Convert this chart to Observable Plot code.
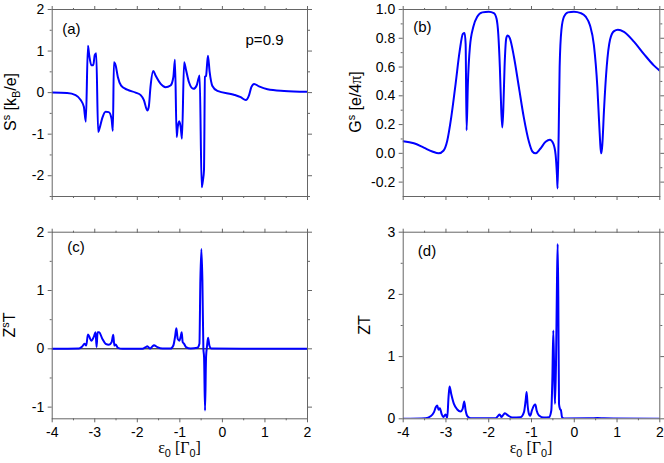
<!DOCTYPE html>
<html><head><meta charset="utf-8">
<script src="https://cdn.jsdelivr.net/npm/d3@7"></script>
<script src="https://cdn.jsdelivr.net/npm/@observablehq/plot@0.6"></script>
<style>
body{margin:0;background:#fff}
#c{position:relative;width:664px;height:463px;font-family:"Liberation Sans",Arial,sans-serif;overflow:hidden}
.p{position:absolute}
</style>
</head><body><div id="c"></div>
<script>
// ---- data ----
const xMajor = [-4, -3, -2, -1, 0, 1, 2];
const xMinor = [-3.5, -2.5, -1.5, -0.5, 0.5, 1.5];

// (a) S^s vs eps0
const sEps = [-4,-3.65,-3.45,-3.33,-3.256,-3.21,-3.16,-3.13,-3.08,-3.035,-3.0,-2.965,-2.92,-2.89,-2.82,-2.745,-2.67,-2.605,-2.574,-2.55,-2.51,-2.456,-2.38,-2.235,-2.04,-1.92,-1.845,-1.765,-1.73,-1.69,-1.625,-1.57,-1.45,-1.335,-1.22,-1.153,-1.115,-1.075,-1.05,-1.015,-0.98,-0.95,-0.90,-0.86,-0.785,-0.68,-0.605,-0.558,-0.534,-0.487,-0.456,-0.433,-0.41,-0.385,-0.34,-0.30,-0.235,-0.118,0.27,0.43,0.55,0.627,0.68,0.745,0.86,1.06,1.45,2];
const sVal = [0,-0.01,-0.06,-0.18,-0.34,-0.70,1.13,0.90,0.66,0.66,0.90,0.95,-0.95,-0.87,-0.6,-0.46,-0.47,-0.63,-0.92,0.73,0.66,0.37,0.17,0.07,0,-0.06,-0.18,-0.43,-0.34,0.14,0.52,0.41,0.21,0.13,0.17,0.37,0.79,-1.07,-0.83,-0.69,-0.83,-1.11,0.73,0.57,0.25,0.09,0.17,0.35,0.41,-2.28,-2.1,-1.87,0.38,0.40,0.89,0.5,0.16,0.04,-0.05,-0.11,-0.18,-0.06,0.13,0.21,0.15,0.08,0.04,0.02];

// (b) G^s vs eps0
const gEps = [-4,-3.75,-3.52,-3.32,-3.17,-3.06,-2.97,-2.877,-2.776,-2.68,-2.605,-2.565,-2.54,-2.518,-2.488,-2.44,-2.36,-2.27,-2.15,-2.0,-1.88,-1.817,-1.777,-1.74,-1.707,-1.683,-1.66,-1.63,-1.59,-1.56,-1.505,-1.41,-1.295,-1.18,-1.06,-0.98,-0.904,-0.80,-0.67,-0.57,-0.49,-0.436,-0.405,-0.39,-0.365,-0.342,-0.30,-0.24,-0.148,-0.007,0.15,0.266,0.367,0.46,0.54,0.587,0.617,0.634,0.657,0.695,0.758,0.836,0.93,1.02,1.163,1.40,1.63,1.865,2.0];
const gVal = [0.084,0.07,0.04,0.013,0.0,0.018,0.088,0.25,0.48,0.71,0.83,0.837,0.76,0.16,0.48,0.74,0.88,0.95,0.98,0.985,0.975,0.935,0.83,0.60,0.30,0.18,0.30,0.60,0.80,0.82,0.80,0.67,0.46,0.25,0.08,0.013,0.0,0.03,0.08,0.095,0.067,-0.01,-0.15,-0.245,0.13,0.60,0.86,0.95,0.98,0.985,0.975,0.95,0.89,0.75,0.46,0.18,0.03,0.0,0.065,0.30,0.60,0.79,0.85,0.86,0.845,0.775,0.69,0.61,0.575];

// (c) Z^s T vs eps0
const zsEps = [-4,-3.37,-3.294,-3.24,-3.2,-3.16,-3.13,-3.08,-3.02,-2.98,-2.957,-2.933,-2.90,-2.82,-2.745,-2.667,-2.604,-2.565,-2.54,-2.51,-2.455,-2.35,-1.88,-1.80,-1.765,-1.70,-1.647,-1.608,-1.53,-1.41,-1.216,-1.153,-1.114,-1.082,-1.05,-1.01,-0.98,-0.957,-0.933,-0.90,-0.855,-0.745,-0.588,-0.54,-0.518,-0.494,-0.47,-0.447,-0.431,-0.408,-0.384,-0.36,-0.337,-0.306,-0.26,2];
const zsVal = [0,0.005,0.04,0.086,0.057,0.246,0.21,0.14,0.21,0.285,0.03,0.285,0.285,0.17,0.086,0.07,0.114,0.24,0.057,0.074,0.017,0,0,0.03,0.046,0.005,0.04,0.063,0.03,0.005,0.005,0.057,0.2,0.354,0.17,0.14,0.21,0.285,0.114,0.086,0.03,0.005,0.017,0.086,1.17,1.71,1.17,0,-0.14,-1.057,-0.14,0.057,0.19,0.057,0.005,0];

// (d) ZT vs eps0
const ztEps = [-4,-3.477,-3.36,-3.28,-3.236,-3.204,-3.173,-3.142,-3.103,-3.064,-3.01,-2.97,-2.94,-2.916,-2.877,-2.814,-2.736,-2.66,-2.61,-2.573,-2.54,-2.50,-2.424,-1.84,-1.785,-1.746,-1.70,-1.66,-1.62,-1.55,-1.45,-1.254,-1.176,-1.137,-1.114,-1.09,-1.06,-1.03,-0.99,-0.942,-0.91,-0.88,-0.825,-0.708,-0.59,-0.537,-0.513,-0.49,-0.466,-0.45,-0.427,-0.404,-0.388,-0.373,-0.357,-0.334,-0.31,-0.287,-0.24,0.38,0.54,0.696,0.93,2];
const ztVal = [0,0.01,0.04,0.107,0.19,0.214,0.145,0.17,0.08,0.027,0.07,0.016,0.35,0.52,0.40,0.24,0.15,0.118,0.16,0.28,0.134,0.043,0.01,0.01,0.043,0.07,0.027,0.064,0.09,0.054,0.02,0.027,0.107,0.295,0.43,0.214,0.08,0.05,0.134,0.214,0.23,0.134,0.054,0.02,0.027,0.134,0.62,1.42,0.62,0.24,0.88,2.22,2.81,1.96,0.24,0.16,0.134,0.027,0.005,0.008,0.012,0.008,0.005,0];

// y ticks
const aMajor = [-2, -1, 0, 1, 2], aMinor = [-2.5, -1.5, -0.5, 0.5, 1.5];
const bMajor = [-0.2, 0, 0.2, 0.4, 0.6, 0.8, 1.0], bMinor = [-0.1, 0.1, 0.3, 0.5, 0.7, 0.9];
const cMajor = [-1, 0, 1, 2], cMinor = [-0.5, 0.5, 1.5];
const dMajor = [0, 1, 2, 3], dMinor = [0.5, 1.5, 2.5];

// ---- drawing ----
const FONT = '"Liberation Sans", Arial, sans-serif';
const FRAME = "#666";
const root = document.getElementById("c");
const blank = () => "";

function panel(o) {
  const data = o.xs.map((e, i) => ({e, v: o.ys[i]}));
  const fmtX = o.showX ? (d => String(d)) : blank;
  const marks = [
    ...(o.zero ? [Plot.ruleY([0], {stroke: "black", strokeWidth: 1})] : []),
    Plot.line(data, {x: "e", y: "v", stroke: "#0000ff", strokeWidth: 2, curve: "monotone-x", clip: true}),
    Plot.frame({stroke: FRAME, strokeWidth: 1}),
    Plot.axisX({ticks: xMajor, tickSize: 4, tickPadding: 4, tickFormat: fmtX, label: null, stroke: FRAME, fill: "black"}),
    Plot.axisX({ticks: xMinor, tickSize: 2, tickFormat: blank, label: null, stroke: FRAME}),
    Plot.axisX({anchor: "top", ticks: xMajor, tickSize: 4, tickFormat: blank, label: null, stroke: FRAME}),
    Plot.axisX({anchor: "top", ticks: xMinor, tickSize: 2, tickFormat: blank, label: null, stroke: FRAME}),
    Plot.axisY({ticks: o.yMajor, tickSize: 4, tickPadding: 4, tickFormat: o.yFmt, label: null, stroke: FRAME, fill: "black"}),
    Plot.axisY({ticks: o.yMinor, tickSize: 2, tickFormat: blank, label: null, stroke: FRAME}),
    Plot.axisY({anchor: "right", ticks: o.yMajor, tickSize: 4, tickFormat: blank, label: null, stroke: FRAME}),
    Plot.axisY({anchor: "right", ticks: o.yMinor, tickSize: 2, tickFormat: blank, label: null, stroke: FRAME}),
    ...o.texts.map(t => Plot.text([t.s], {text: d => d, frameAnchor: t.anchor, textAnchor: t.ta, lineAnchor: "top", dx: t.dx, dy: t.dy, fontSize: t.fs, fill: "black"}))
  ];
  const chart = Plot.plot({
    width: o.w, height: o.h,
    marginLeft: o.ml, marginRight: o.mr, marginTop: o.mt, marginBottom: o.mb,
    x: {domain: [-4, 2]},
    y: {domain: o.yDomain},
    style: {fontSize: "14px", fontFamily: FONT, overflow: "visible", background: "transparent"},
    marks
  });
  chart.classList.add("p");
  chart.style.left = o.left + "px";
  chart.style.top = o.top + "px";
  root.appendChild(chart);
}

const intFmt = d => String(d);
const oneFmt = d => d.toFixed(1);

panel({xs: sEps, ys: sVal, left: 0, top: 0, w: 332, h: 225, ml: 51.7, mr: 25, mt: 9, mb: 29,
  yDomain: [-2.5, 2], yMajor: aMajor, yMinor: aMinor, yFmt: intFmt, showX: false,
  texts: [{s: "(a)", anchor: "top-left", ta: "start", dx: 10, dy: 14, fs: 15},
          {s: "p=0.9", anchor: "top-right", ta: "end", dx: -24, dy: 25, fs: 15}]});
panel({xs: gEps, ys: gVal, left: 332, top: 0, w: 332, h: 225, ml: 70.7, mr: 4.7, mt: 9, mb: 29,
  yDomain: [-0.3, 1.0], yMajor: bMajor, yMinor: bMinor, yFmt: oneFmt, showX: false,
  texts: [{s: "(b)", anchor: "top-left", ta: "start", dx: 10, dy: 11.5, fs: 15}]});
panel({xs: zsEps, ys: zsVal, left: 0, top: 225, w: 332, h: 238, ml: 51.7, mr: 25, mt: 6.7, mb: 44.7,
  yDomain: [-1.2, 2], yMajor: cMajor, yMinor: cMinor, yFmt: intFmt, showX: true, zero: true,
  texts: [{s: "(c)", anchor: "top-left", ta: "start", dx: 15, dy: 9, fs: 15}]});
panel({xs: ztEps, ys: ztVal, left: 332, top: 225, w: 332, h: 238, ml: 70.7, mr: 4.7, mt: 6.7, mb: 44.7,
  yDomain: [0, 3], yMajor: dMajor, yMinor: dMinor, yFmt: intFmt, showX: true,
  texts: [{s: "(d)", anchor: "top-left", ta: "start", dx: 14.6, dy: 12.8, fs: 15}]});

// ---- axis titles with super/subscripts ----
const svg = d3.select(root).append("svg").attr("class", "p")
  .attr("width", 664).attr("height", 463)
  .style("left", "0px").style("top", "0px").style("pointer-events", "none")
  .style("font-family", FONT);

function label(x, y, rot, size, parts) {
  const t = svg.append("text").attr("transform", `translate(${x},${y}) rotate(${rot})`)
    .attr("text-anchor", "middle").attr("font-size", size).attr("fill", "black");
  let shift = 0;
  for (const p of parts) {
    const s = t.append("tspan").text(p.t);
    const target = p.k === "sup" ? -6.5 : p.k === "sub" ? 4 : 0;
    s.attr("dy", target - shift);
    shift = target;
    if (p.k) s.attr("font-size", size * 0.68);
    if (p.serif) s.attr("font-family", '"Liberation Serif", "Times New Roman", serif');
  }
}

label(16, 102, -90, 16, [{t: "S"}, {t: "s", k: "sup"}, {t: " [k"}, {t: "B", k: "sub"}, {t: "/e]"}]);
label(361, 102, -90, 16, [{t: "G"}, {t: "s", k: "sup"}, {t: " [e/4"}, {t: "π", serif: true}, {t: "]"}]);
label(15, 325, -90, 16, [{t: "Z"}, {t: "s", k: "sup"}, {t: "T"}]);
label(370, 325, -90, 16, [{t: "ZT"}]);
for (const cx of [179.5, 531]) {
  label(cx, 453, 0, 16, [{t: "ε", serif: true}, {t: "0", k: "sub"}, {t: " [", serif: true}, {t: "Γ", serif: true}, {t: "0", k: "sub"}, {t: "]", serif: true}]);
}
</script></body></html>
